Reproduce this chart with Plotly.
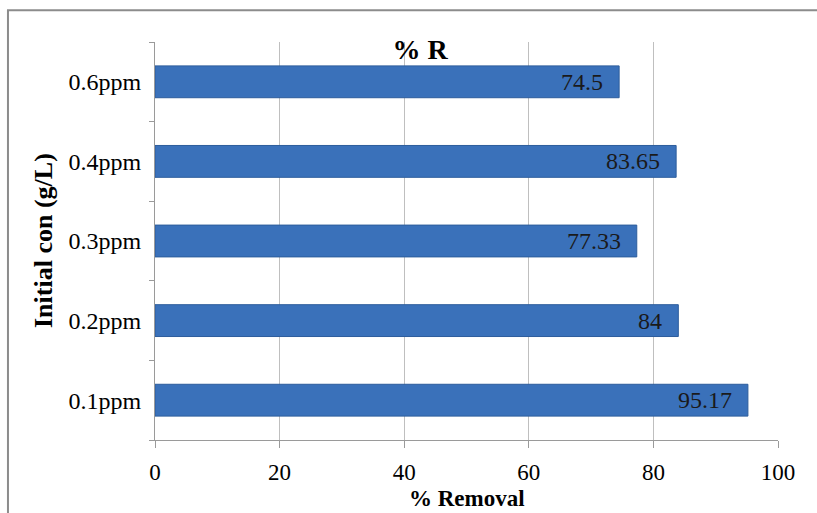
import plotly.graph_objects as go

# Removal efficiency by initial concentration
categories = ["0.1ppm", "0.2ppm", "0.3ppm", "0.4ppm", "0.6ppm"]
removal = [95.17, 84, 77.33, 83.65, 74.5]
value_labels = ["95.17", "84", "77.33", "83.65", "74.5"]
x_ticks = [0, 20, 40, 60, 80, 100]

SERIF = "Liberation Serif"
BAR_BLUE = "#3a71ba"
GRID = "#bfbfbf"
AXIS = "#9a9a9a"

fig = go.Figure()
fig.add_trace(go.Bar(
    x=removal,
    y=categories,
    orientation="h",
    marker=dict(color=BAR_BLUE, line=dict(color="#2d5d9c", width=1)),
    hoverinfo="x+y",
))

# value labels just inside the end of each bar
for cat, val, lab in zip(categories, removal, value_labels):
    fig.add_annotation(
        x=val, y=cat, xref="x", yref="y",
        text=lab, showarrow=False,
        xanchor="right", yanchor="middle", xshift=-14,
        font=dict(family=SERIF, size=24, color="#1a1a1a"),
    )

# axis titles
fig.add_annotation(
    x=0, y=0.5, xref="paper", yref="paper", xshift=-112,
    text="<b>Initial con (g/L)</b>", textangle=-90, showarrow=False,
    xanchor="center", yanchor="middle",
    font=dict(family=SERIF, size=26, color="#000000"),
)
fig.add_annotation(
    x=0.5, y=0, xref="paper", yref="paper", yshift=-58,
    text="<b>% Removal</b>", showarrow=False,
    xanchor="center", yanchor="middle",
    font=dict(family=SERIF, size=23, color="#000000"),
)

# chart frame
fig.add_shape(
    type="rect", xref="paper", yref="paper",
    x0=-0.236, x1=1.3, y0=-0.5, y1=1.08,
    line=dict(color="#8c8c8c", width=2), fillcolor="rgba(0,0,0,0)",
    layer="below",
)

fig.update_layout(
    width=817, height=513,
    margin=dict(l=155, r=39, t=42, b=73),
    paper_bgcolor="white", plot_bgcolor="white",
    showlegend=False,
    bargap=0.6,
    font=dict(family=SERIF),
    title=dict(
        text="<b>% R</b>", x=420 / 817, xref="container", xanchor="center",
        y=1 - 49 / 513, yref="container", yanchor="middle",
        font=dict(family=SERIF, size=28, color="#000000"),
    ),
    xaxis=dict(
        range=[0, 100], tickvals=x_ticks,
        showgrid=True, gridcolor=GRID, gridwidth=1,
        showline=True, linecolor=AXIS, linewidth=1,
        ticks="outside", ticklen=7, tickcolor=AXIS,
        ticklabelstandoff=4,
        tickfont=dict(family=SERIF, size=23, color="#000000"),
        zeroline=False, fixedrange=True,
    ),
    yaxis=dict(
        type="category", categoryorder="array", categoryarray=categories,
        showgrid=False, tickson="boundaries",
        showline=True, linecolor=AXIS, linewidth=1,
        ticks="outside", ticklen=5, tickcolor=AXIS,
        ticklabelstandoff=8,
        tickfont=dict(family=SERIF, size=24, color="#000000"),
        fixedrange=True,
    ),
)

fig.write_html("out.html")
